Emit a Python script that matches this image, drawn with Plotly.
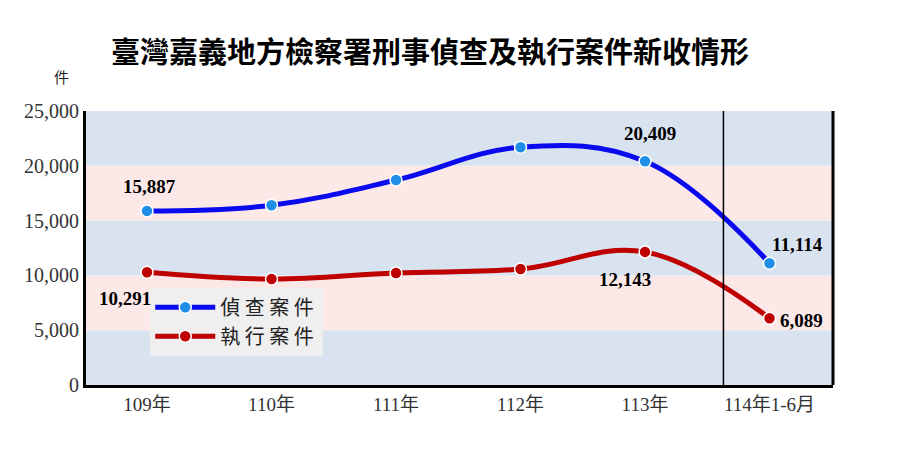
import plotly.graph_objects as go

# data
years = ['109年', '110年', '111年', '112年', '113年', '114年1-6月']
investigation = [15887, 16400, 18700, 21700, 20409, 11114]
execution = [10291, 9670, 10220, 10580, 12143, 6089]
y_ticks = [0, 5000, 10000, 15000, 20000, 25000]

serif = 'Liberation Serif, Noto Sans CJK TC'
xs = list(range(len(years)))

fig = go.Figure()

fig.add_trace(go.Scatter(
    x=xs, y=investigation, name='偵 查 案 件 ',
    mode='lines+markers',
    line=dict(color='#0a0aee', width=5, shape='spline', smoothing=1.1),
    marker=dict(color='#1e8ee8', size=12, line=dict(color='white', width=1.5)),
))
fig.add_trace(go.Scatter(
    x=xs, y=execution, name='執 行 案 件 ',
    mode='lines+markers',
    line=dict(color='#be0000', width=5, shape='spline', smoothing=1.1),
    marker=dict(color='#be0000', size=12, line=dict(color='white', width=1.5)),
))

# background bands (every 5000)
band_colors = ['#d8e3ef', '#fde8e8']
for i in range(len(y_ticks) - 1):
    fig.add_shape(type='rect', xref='paper', yref='y', x0=0, x1=1,
                  y0=y_ticks[i], y1=y_ticks[i + 1],
                  fillcolor=band_colors[i % 2], line_width=0, layer='below')

# separator before the half-year column and right border
fig.add_shape(type='line', xref='x', yref='paper', x0=4.63, x1=4.63, y0=0, y1=1,
              line=dict(color='black', width=1.5))
fig.add_shape(type='line', xref='paper', yref='paper', x0=1, x1=1, y0=0, y1=1,
              line=dict(color='black', width=3))

# value labels
label_pos = {
    (0, 0): (2, 24), (0, 4): (5, 28), (0, 5): (28, 19),
    (1, 0): (-22, -26), (1, 4): (-20, -28), (1, 5): (32, -2),
}
for s, vals in enumerate([investigation, execution]):
    for i, v in enumerate(vals):
        if (s, i) in label_pos:
            dx, dy = label_pos[(s, i)]
            fig.add_annotation(x=i, y=v, text=f'<b>{v:,}</b>', showarrow=False,
                               xshift=dx, yshift=dy,
                               font=dict(family='Liberation Serif', size=19, color='black'))

fig.add_annotation(xref='paper', yref='paper', x=-0.045, y=1.17, text='件',
                   showarrow=False, font=dict(family='Noto Sans CJK TC', size=15, color='#222'))

fig.update_layout(
    width=900, height=450,
    margin=dict(l=78, r=75, t=103, b=73),
    paper_bgcolor='white', plot_bgcolor='white',
    title=dict(text='<b>臺灣嘉義地方檢察署刑事偵查及執行案件新收情形</b>',
               x=0.469, xanchor='center', y=0.9, yanchor='middle',
               font=dict(family='Noto Sans CJK TC', size=29, color='black')),
    xaxis=dict(range=[-0.49, 5.51], tickvals=xs, ticktext=years,
               showgrid=False, zeroline=False,
               showline=True, linecolor='black', linewidth=3,
               tickfont=dict(family=serif, size=19, color='#333')),
    yaxis=dict(range=[0, 25000], tickvals=y_ticks, tickformat=',',
               showgrid=False, zeroline=False,
               showline=True, linecolor='black', linewidth=3,
               tickfont=dict(family='Liberation Serif', size=20, color='#333')),
    legend=dict(x=0.086, y=0.355, xanchor='left', yanchor='top',
                bgcolor='#efefef', borderwidth=0,
                font=dict(family='Noto Sans CJK TC', size=20, color='#222'),
                itemwidth=60),
    showlegend=True,
)

fig.write_html('out.html')
